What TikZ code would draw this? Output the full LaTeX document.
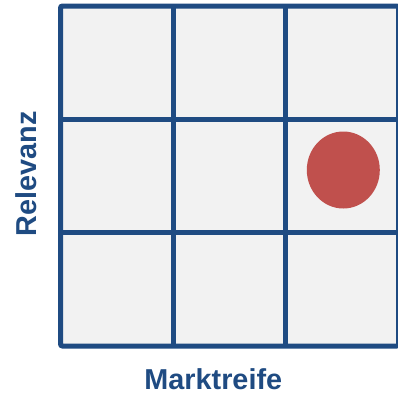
\documentclass[tikz,border=0pt]{standalone}
\usepackage{fontspec}
\setmainfont{Liberation Sans}
\usetikzlibrary{shapes.geometric}
\definecolor{gridblue}{RGB}{31,75,130}
\definecolor{cellgray}{RGB}{242,242,242}
\definecolor{dotred}{RGB}{192,80,77}
\begin{document}
\begin{tikzpicture}[x=1pt,y=-1pt,
  gridline/.style={draw=gridblue,line width=5pt},
  axislabel/.style={text=gridblue,font=\bfseries\fontsize{28.8}{32}\selectfont,inner sep=0pt,anchor=base}]
\useasboundingbox (0,0) rectangle (398,394);
\fill[cellgray] (60.5,6) rectangle (398.5,346);
\foreach \x in {173.5,285.8}
  \draw[gridline] (\x,6) -- (\x,346);
\foreach \y in {119,232.5}
  \draw[gridline] (60.5,\y) -- (398.5,\y);
\draw[gridline,rounded corners=2pt] (60.5,6) rectangle (398.5,346);
\node[fill=dotred,ellipse,inner sep=0pt,minimum width=73pt,minimum height=77pt] (dot) at (343.3,170) {};
\node[axislabel] (xlab) at (213.3,389) {Marktreife};
\node[axislabel,rotate=90] (ylab) at (36.5,173.8) {Relevanz};
\end{tikzpicture}
\end{document}
